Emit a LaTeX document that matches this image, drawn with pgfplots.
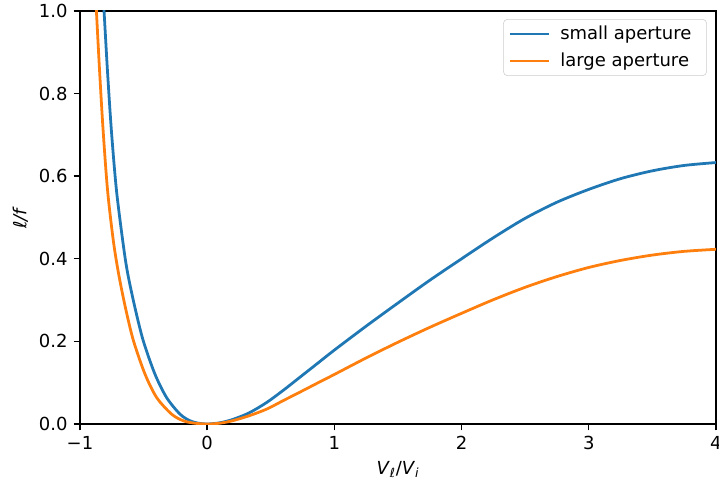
\documentclass[border=0pt]{standalone}
\usepackage{fontspec}
\setmainfont{DejaVu Sans}
\usepackage{pgfplots}
\pgfplotsset{compat=1.18}
\definecolor{mplblue}{HTML}{1F77B4}
\definecolor{mplorange}{HTML}{FF7F0E}
\begin{document}
\begin{tikzpicture}
\clip (-57.6bp,-47.5bp) rectangle (460.1bp,305.3bp);
\begin{axis}[
  at={(0,0)}, anchor=south west,
  scale only axis,
  width=457.9bp, height=297.4bp,
  xmin=-1, xmax=4, ymin=0, ymax=1,
  xtick={-1,0,1,2,3,4},
  xticklabels={−1,0,1,2,3,4},
  ytick={0,0.2,0.4,0.6,0.8,1},
  yticklabels={0.0,0.2,0.4,0.6,0.8,1.0},
  tick pos=left,
  tick align=outside,
  major tick length=4.5bp,
  tick style={black, line width=1bp},
  axis line style={black, line width=1bp},
  tick label style={font=\fontsize{13}{15}\selectfont},
  xticklabel style={yshift=-1bp},
  yticklabel style={xshift=-1bp},
  xlabel={\textit{V}\textsubscript{\textit{ℓ}}/\textit{V}\textsubscript{\textit{i}}},
  ylabel={\textit{ℓ/f}},
  label style={font=\fontsize{13}{15}\selectfont},
  xlabel style={yshift=-1bp},
  ylabel style={yshift=1bp},
  /pgf/number format/assume math mode=true,
  legend cell align=left,
  legend style={at={(1,1)}, anchor=north east, xshift=-6.5bp, yshift=-5.8bp,
    draw=black!20, rounded corners=3pt, font=\fontsize{13}{15}\selectfont,
    inner xsep=4pt, inner ysep=3pt, row sep=4pt,
    nodes={inner xsep=7bp}},
  legend image code/.code={\draw[#1, line width=2bp] (0bp,0bp) -- (28bp,0bp);},
  clip=true,
]
\addplot[mplblue, line width=2bp, smooth] coordinates {
(-0.835,1.12) (-0.811,1.0) (-0.784,0.855) (-0.753,0.71) (-0.713,0.565)
(-0.658,0.43) (-0.624,0.363) (-0.568,0.282) (-0.503,0.202) (-0.411,0.121)
(-0.319,0.064) (-0.214,0.024) (-0.136,0.008) (-0.07,0.002) (0,0)
(0.1,0.003) (0.2,0.011) (0.33,0.027) (0.467,0.052) (0.6,0.082)
(0.728,0.113) (0.86,0.145) (1,0.179) (1.25,0.237) (1.5,0.293)
(1.75,0.348) (2,0.400) (2.25,0.451) (2.5,0.498) (2.75,0.537)
(3,0.568) (3.25,0.594) (3.5,0.613) (3.75,0.626) (4,0.633)
};
\addlegendentry{small aperture}
\addplot[mplorange, line width=2bp, smooth] coordinates {
(-0.892,1.12) (-0.871,1.0) (-0.846,0.855) (-0.818,0.71) (-0.783,0.565)
(-0.738,0.444) (-0.696,0.363) (-0.643,0.282) (-0.58,0.202) (-0.489,0.121)
(-0.397,0.064) (-0.28,0.024) (-0.189,0.008) (-0.1,0.002) (0,0)
(0.1,0.002) (0.2,0.008) (0.33,0.02) (0.467,0.036) (0.6,0.057)
(0.728,0.077) (0.86,0.098) (1,0.120) (1.25,0.160) (1.5,0.198)
(1.75,0.234) (2,0.268) (2.25,0.301) (2.5,0.331) (2.75,0.357)
(3,0.379) (3.25,0.396) (3.5,0.409) (3.75,0.418) (4,0.423)
};
\addlegendentry{large aperture}
\end{axis}
\end{tikzpicture}
\end{document}
